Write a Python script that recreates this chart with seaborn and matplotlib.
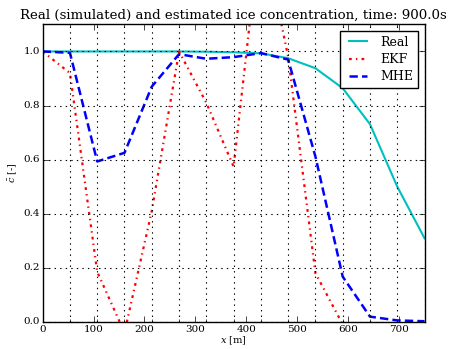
import matplotlib
matplotlib.use("Agg")
import matplotlib.pyplot as plt
import numpy as np
import pandas as pd
import seaborn as sns
from matplotlib.ticker import FixedLocator, MultipleLocator

plt.style.use("classic")
plt.rcParams["font.family"] = ["DejaVu Serif"]
plt.rcParams["mathtext.fontset"] = "dejavuserif"

# grid positions (m)
x_pos = [0.0, 53.57, 107.14, 160.71, 214.29, 267.86, 321.43, 375.0,
         428.57, 482.14, 535.71, 589.29, 642.86, 696.43, 750.0]
real = [1.0, 1.0, 1.0, 1.0, 1.0, 1.0, 0.999, 0.997,
        0.993, 0.975, 0.938, 0.864, 0.731, 0.50, 0.309]
ekf = [1.0, 0.92, 0.185, -0.04, 0.41, 1.0, 0.81, 0.574,
       1.47, 0.98, 0.18, -0.01, -0.05, -0.03, -0.02]
mhe = [1.0, 0.995, 0.593, 0.625, 0.87, 0.99, 0.973, 0.979,
       0.994, 0.97, 0.611, 0.167, 0.019, 0.005, 0.002]

df = pd.DataFrame({"x": x_pos, "Real": real, "EKF": ekf, "MHE": mhe})

fig = plt.figure(figsize=(4.49, 3.49), dpi=100)
ax = fig.add_axes([0.095, 0.078, 0.8505, 0.852])

sns.lineplot(data=df, x="x", y="Real", ax=ax, color="c", lw=1.5, label="Real")
sns.lineplot(data=df, x="x", y="EKF", ax=ax, color="r", lw=1.6,
             linestyle=(0, (2, 3, 1, 3)), label="EKF")
sns.lineplot(data=df, x="x", y="MHE", ax=ax, color="b", lw=1.8,
             linestyle=(0, (6, 3)), label="MHE")

ax.set_xlim(0, 750)
ax.set_ylim(0, 1.1)
ax.xaxis.set_major_locator(MultipleLocator(100))
ax.xaxis.set_minor_locator(FixedLocator(x_pos))
ax.set_yticks([0.0, 0.2, 0.4, 0.6, 0.8, 1.0])
ax.grid(False)
ax.xaxis.grid(True, which="minor", linestyle=":", color="k", lw=0.8)
ax.yaxis.grid(True, which="major", linestyle=":", color="k", lw=0.8)
ax.tick_params(which="major", labelsize=7.5, pad=2)

ax.set_title("Real (simulated) and estimated ice concentration, time: 900.0s",
             fontsize=9.6, pad=4)
ax.set_xlabel(r"$x$ [m]", fontsize=7, labelpad=1)
ax.set_ylabel(r"$\bar{c}$ [-]", fontsize=7, labelpad=3)
ax.legend(loc="upper right", fontsize=9, handlelength=2.0, handletextpad=0.8,
          borderpad=0.4, labelspacing=0.35, borderaxespad=0.5)

fig.savefig("out.png", dpi=100, facecolor="white")
